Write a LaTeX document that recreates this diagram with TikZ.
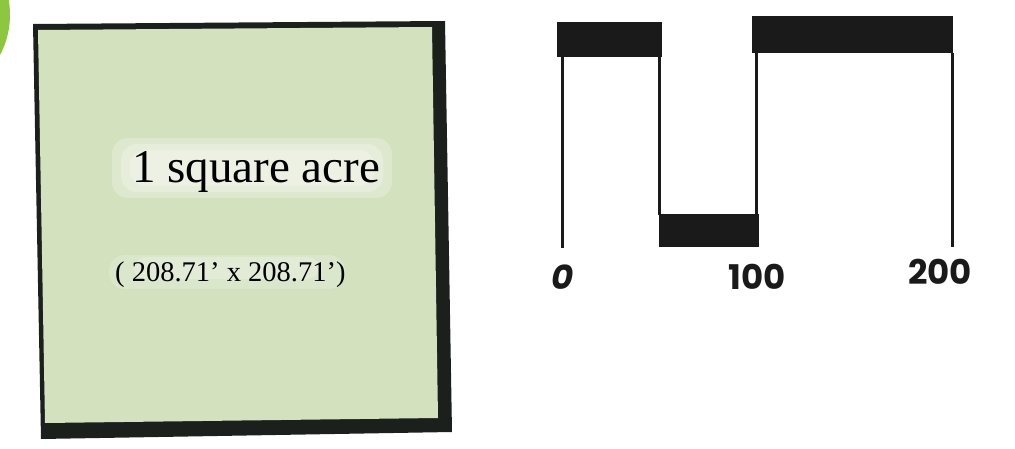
\documentclass[tikz,border=0pt]{standalone}
\usepackage{fontspec}
\setmainfont{Liberation Serif}
\newfontfamily\handfont{Poppins}
\definecolor{acregreen}{HTML}{D3E1BF}
\definecolor{edgeink}{HTML}{1C201C}
\definecolor{limegreen}{HTML}{8DC63F}
\definecolor{ink}{HTML}{1A1A1A}
\begin{document}
\begin{tikzpicture}[x=1pt,y=-1pt,
  barbox/.style={fill=ink,draw=ink,line width=1pt},
  tickline/.style={draw=ink,line width=3pt},
  scalelabel/.style={font=\handfont\bfseries\fontsize{34}{34}\selectfont,text=ink,inner sep=0pt},
  glow/.style={fill=white,opacity=.25,rounded corners=16pt,inner sep=0pt},
  acretext/.style={text=black,inner sep=0pt,anchor=base west}
 ]
\useasboundingbox (0,0) rectangle (1015,449);
\begin{scope}
  \clip (0,0) rectangle (1015,449);
  \fill[limegreen] (-75,15) circle (85);
\end{scope}
% the acre square
\fill[edgeink] (33,24) -- (445,21) -- (452,432) -- (41,439) -- cycle;
\fill[acregreen] (38,30) -- (432,27) -- (438,418) -- (45,423) -- cycle;
\node[glow,minimum width=280pt,minimum height=60pt] (g1a) at (252,168) {};
\node[glow,minimum width=262pt,minimum height=48pt] (g1b) at (252,168) {};
\node[glow,minimum width=245pt,minimum height=36pt] (g1c) at (252,168) {};
\node[glow,minimum width=236pt,minimum height=34pt,opacity=.2] (g2a) at (227,272) {};
\node[glow,minimum width=190pt,minimum height=22pt,opacity=.2] (g2b) at (227,268) {};
\node[acretext,font=\fontsize{47}{47}\selectfont] (t1) at (132,183) {1 square acre};
\node[acretext,font=\fontsize{28.5}{28.5}\selectfont] (t2) at (115,282) {( 208.71' x 208.71')};
% scale bar
\fill[barbox] (557,23) rectangle (661,57);
\fill[barbox] (659,215) rectangle (758,247);
\fill[barbox] (752,17) rectangle (952,53);
\draw[tickline] (562,57) -- (562,248);
\draw[tickline] (659,57) -- (659,215);
\draw[tickline] (756,53) -- (756,215);
\draw[tickline] (952,53) -- (952,247);
\node[scalelabel] (l0) at (563,277) {\itshape 0};
\node[scalelabel] (l100) at (757,277) {100};
\node[scalelabel] (l200) at (940,272) {200};
\end{tikzpicture}
\end{document}
